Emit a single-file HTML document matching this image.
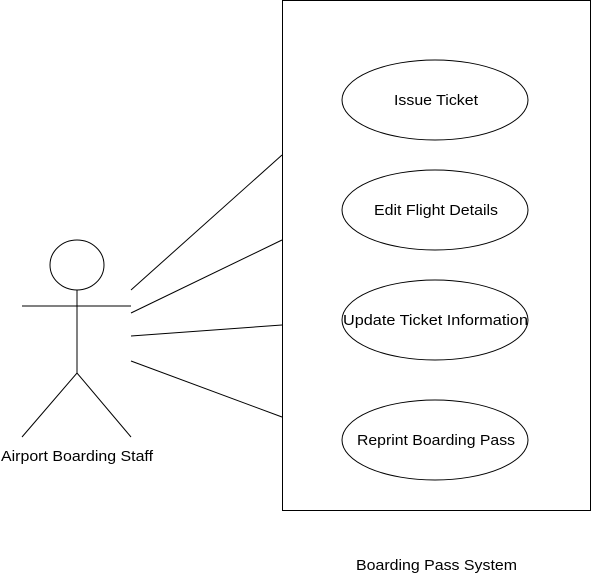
<!DOCTYPE html>
<html><head><style>body{margin:0;background:#fff}svg{display:block}</style></head><body>
<svg width="592" height="581" xmlns="http://www.w3.org/2000/svg" font-family="Liberation Sans, Arial, sans-serif" font-size="15">
<rect x="282.5" y="0.5" width="308" height="510" fill="#fff" stroke="#000"/>
<g fill="#fff" stroke="#000">
<ellipse cx="435" cy="100" rx="93" ry="40"/>
<ellipse cx="435" cy="210" rx="93" ry="40"/>
<ellipse cx="435" cy="320" rx="93" ry="40"/>
<ellipse cx="435" cy="440" rx="93" ry="40"/>
</g>
<g fill="#000">
<text x="394" y="105" textLength="84" lengthAdjust="spacingAndGlyphs">Issue Ticket</text>
<text x="374" y="215" textLength="124" lengthAdjust="spacingAndGlyphs">Edit Flight Details</text>
<text x="343" y="325" textLength="185" lengthAdjust="spacingAndGlyphs">Update Ticket Information</text>
<text x="357" y="445" textLength="158" lengthAdjust="spacingAndGlyphs">Reprint Boarding Pass</text>
<text x="1" y="461" textLength="152" lengthAdjust="spacingAndGlyphs">Airport Boarding Staff</text>
<text x="356" y="570" textLength="161" lengthAdjust="spacingAndGlyphs">Boarding Pass System</text>
</g>
<g stroke="#000" fill="none">
<ellipse cx="77" cy="265" rx="27" ry="25" fill="#fff"/>
<line x1="77" y1="290" x2="77" y2="373"/>
<line x1="22" y1="306" x2="131" y2="306"/>
<polyline points="22,437 77,373 131,437"/>
<line x1="131" y1="290" x2="282" y2="155"/>
<line x1="131" y1="313" x2="282" y2="240"/>
<line x1="131" y1="336" x2="282" y2="325"/>
<line x1="131" y1="361" x2="282" y2="417"/>
</g>
</svg>
</body></html>
